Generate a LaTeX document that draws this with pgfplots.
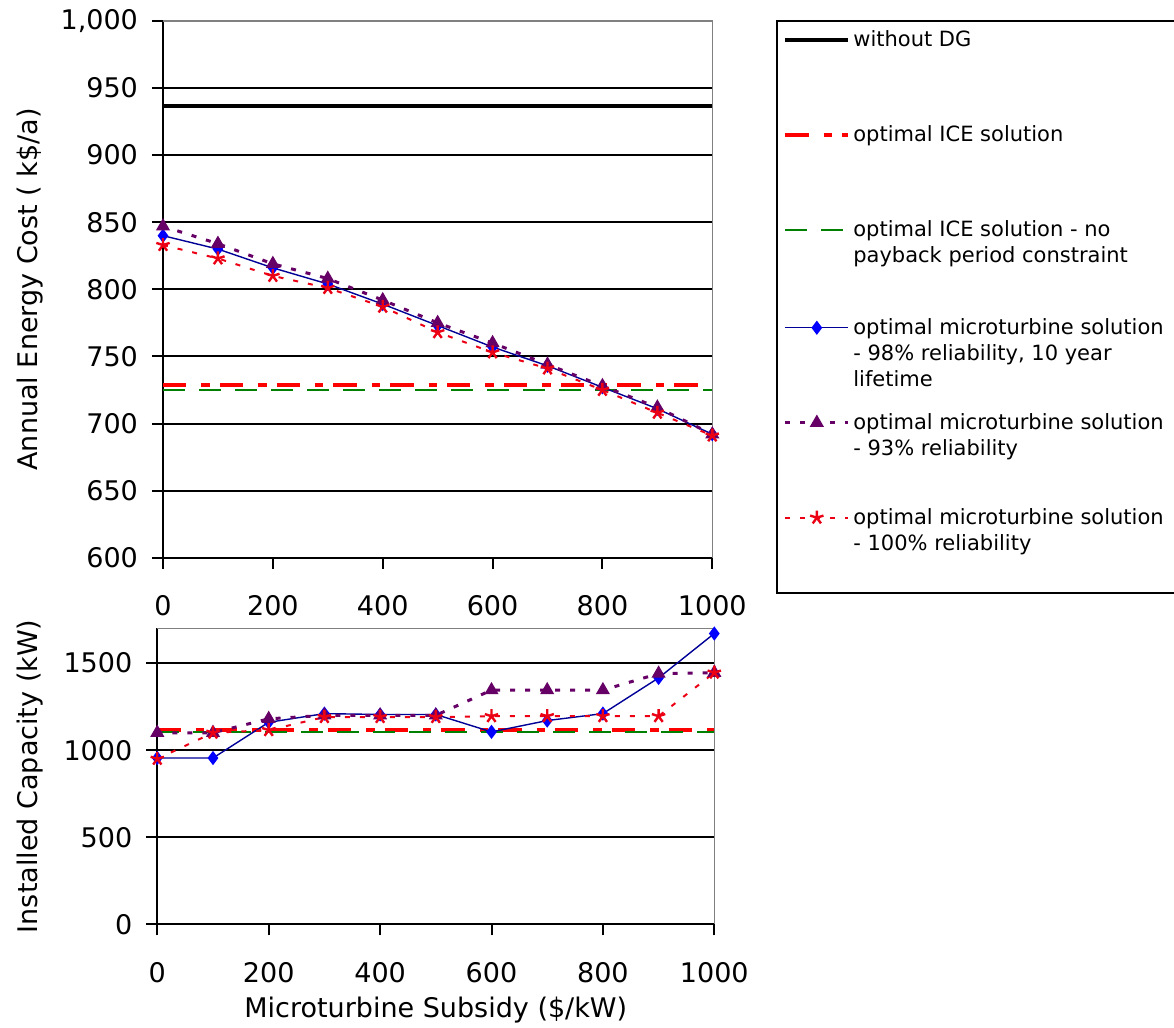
\documentclass[border=0pt]{standalone}
\usepackage{pgfplots}
\pgfplotsset{compat=1.18}
\usepackage{fontspec}
\setmainfont{DejaVu Sans}
\definecolor{mtblue}{RGB}{0,0,255}
\definecolor{mtnavy}{RGB}{0,0,150}
\definecolor{mtpurple}{RGB}{102,0,102}
\definecolor{icered}{RGB}{255,0,0}
\definecolor{icegreen}{RGB}{0,128,0}
\definecolor{mtred}{RGB}{235,0,20}
\newcommand{\legtext}[2][47.5pt]{\vtop to #1{\hsize=159.5pt\parindent=0pt\raggedright #2\par\vfil}}

\pgfplotsset{
  mystyle/.style={
    scale only axis,
    clip=false,
    axis x line*=bottom, axis y line*=left,
    axis line style={line width=1pt, black, -},
    tick align=outside,
    major tick length=5.5pt,
    tick style={black, line width=1pt},
    xmin=0, xmax=1000,
    xtick={0,200,...,1000},
    /pgf/number format/assume math mode=true,
    /pgf/number format/1000 sep={},
    tick label style={font=\fontsize{13.5}{16}\selectfont},
    label style={font=\fontsize{13.5}{16}\selectfont},
    xticklabel style={yshift=-10pt},
    yticklabel style={xshift=-3.5pt},
    extra y tick style={ymajorgrids=true, major tick length=0pt},
    extra y tick labels={},
    grid style={black, line width=1pt},
  },
  nodg/.style={black, line width=2pt, no marks},
  ice/.style={icered, line width=2pt, no marks, dash pattern=on 11.7pt off 7.5pt on 4.2pt off 5pt},
  icenp/.style={icegreen, line width=1pt, no marks, dash pattern=on 11pt off 7pt},
  mt98/.style={mtnavy, line width=0.7pt, mark=diamond*, mark size=3pt, mark options={solid, fill=mtblue, draw=mtblue}},
  mt93/.style={mtpurple, line width=1.5pt, dash pattern=on 2.5pt off 5pt, mark=triangle*, mark size=3.5pt, mark options={solid, fill=mtpurple, draw=mtpurple, line width=0.6pt}},
  mt100/.style={mtred, line width=1pt, dash pattern=on 2.5pt off 5pt, mark=star, mark size=3.5pt, mark options={solid, draw=mtred, line width=1.2pt}},
}

\begin{document}
\begin{tikzpicture}
\path[use as bounding box] (0pt,0pt) rectangle (587pt,514pt);

% ---------------- top axis ----------------
\begin{axis}[mystyle,
  at={(81.5pt,235.15pt)}, anchor=south west,
  width=274.65pt, height=268.35pt,
  ymin=600, ymax=1000, ytick={600,650,...,1000},
  extra y ticks={650,700,...,950},
  yticklabel style={/pgf/number format/.cd, 1000 sep={,}},
  ylabel={Annual Energy Cost ( k\$/a)},
  ylabel style={at={(axis description cs:-0.242,0.5)}, anchor=center},
  legend style={
    at={(1.1166,1.0019)}, anchor=north west,
    draw=black, line width=1pt,
    inner xsep=3pt, inner ysep=5pt,
    row sep=0pt, column sep=1.5pt,
    cells={anchor=base west},
    nodes={inner sep=0pt, text depth=, text height=, font=\fontsize{10.5}{13}\selectfont},
  },
  legend image code/.code={\draw[mark repeat=2, mark phase=2, yshift=3.6pt] plot coordinates {(0pt,0pt) (15.75pt,0pt) (31.5pt,0pt)};},
]
\draw[gray, line width=0.6pt] (rel axis cs:0,1) -- (rel axis cs:1,1) -- (rel axis cs:1,0);
\addplot[nodg] coordinates {(0,937) (1000,937)};
\addlegendentry{\legtext{without DG}}
\addplot[ice] coordinates {(0,729) (1000,729)};
\addlegendentry{\legtext{optimal ICE solution}}
\addplot[icenp] coordinates {(0,725) (1000,725)};
\addlegendentry{\legtext[49pt]{optimal ICE solution - no\\payback period constraint}}
\addplot[mt98] coordinates {
(0,840) (100,830) (200,816) (300,804) (400,789) (500,773)
(600,757) (700,743) (800,727) (900,711) (1000,692)};
\addlegendentry{\legtext{optimal microturbine solution\\- 98\% reliability, 10 year\\lifetime}}
\addplot[mt93] coordinates {
(0,847) (100,834) (200,819) (300,808) (400,792) (500,775)
(600,760) (700,744) (800,728) (900,712) (1000,692)};
\addlegendentry{\legtext{optimal microturbine solution\\- 93\% reliability}}
\addplot[mt100] coordinates {
(0,833) (100,823) (200,810) (300,801) (400,787) (500,768)
(600,753) (700,741) (800,725) (900,708) (1000,691)};
\addlegendentry{\legtext[37pt]{optimal microturbine solution\\- 100\% reliability}}
\end{axis}

% ---------------- bottom axis ----------------
\begin{axis}[mystyle,
  at={(78.65pt,51.85pt)}, anchor=south west,
  width=278.5pt, height=148pt,
  ymin=0, ymax=1700, ytick={0,500,1000,1500},
  extra y ticks={500,1000,1500},
  xlabel={Microturbine Subsidy (\$/kW)},
  xlabel style={at={(axis description cs:0.5,-0.2895)}, anchor=center},
  ylabel={Installed Capacity (kW)},
  ylabel style={at={(axis description cs:-0.2285,0.5)}, anchor=center},
]
\draw[gray, line width=0.6pt] (rel axis cs:0,1) -- (rel axis cs:1,1) -- (rel axis cs:1,0);
\addplot[ice] coordinates {(0,1115) (1000,1115)};
\addplot[icenp] coordinates {(0,1105) (1000,1105)};
\addplot[mt98] coordinates {
(0,955) (100,955) (200,1160) (300,1210) (400,1205) (500,1205)
(600,1105) (700,1170) (800,1210) (900,1415) (1000,1670)};
\addplot[mt93] coordinates {
(0,1100) (100,1100) (200,1180) (300,1200) (400,1200) (500,1200)
(600,1345) (700,1345) (800,1345) (900,1440) (1000,1445)};
\addplot[mt100] coordinates {
(0,950) (100,1100) (200,1115) (300,1190) (400,1190) (500,1190)
(600,1195) (700,1195) (800,1195) (900,1195) (1000,1445)};
\end{axis}
\end{tikzpicture}
\end{document}
